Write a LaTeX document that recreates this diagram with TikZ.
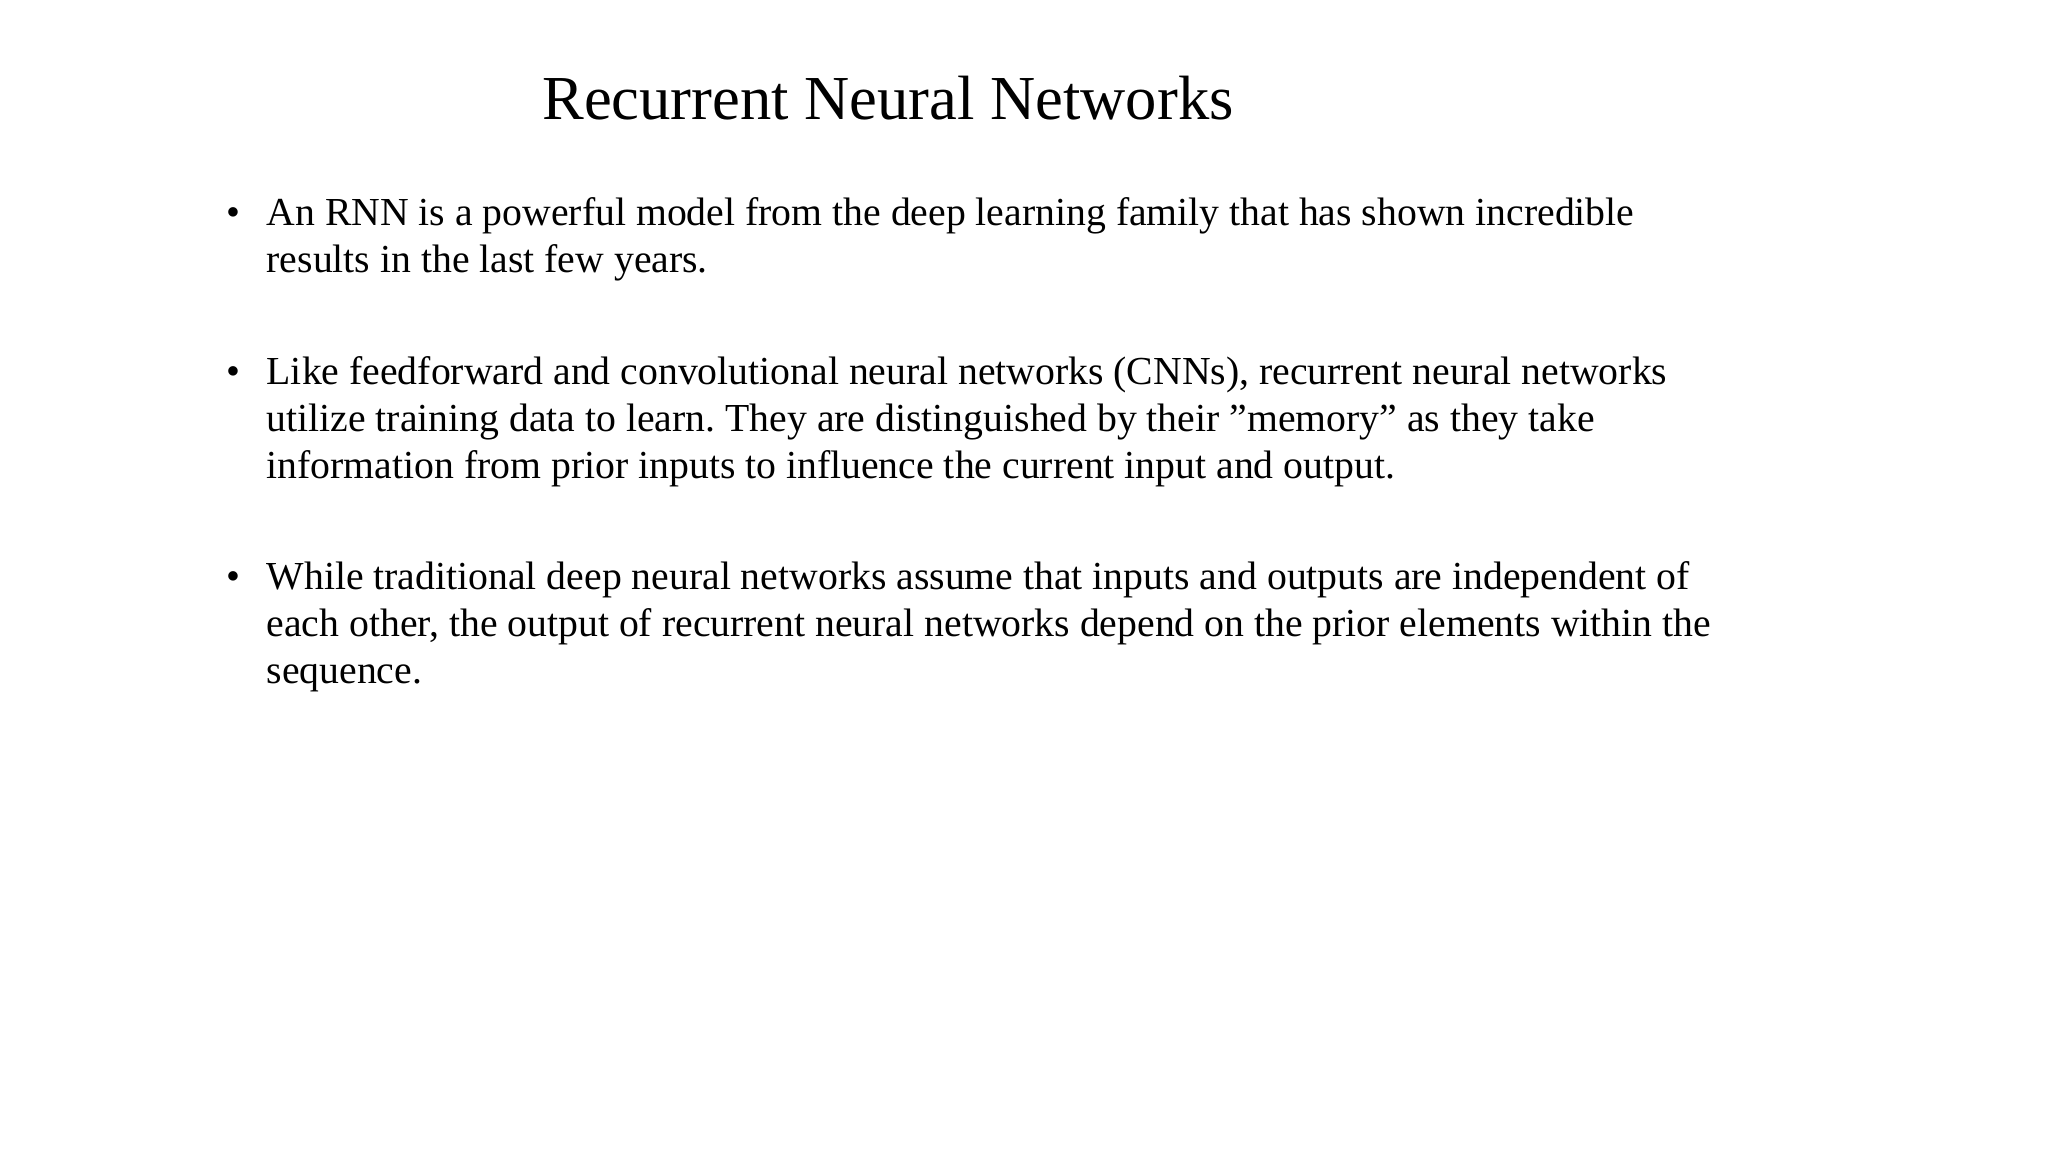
\documentclass[tikz,border=0pt]{standalone}
\usepackage{fontspec}
\setmainfont{Liberation Serif}
\frenchspacing
\tikzset{
  body/.style={anchor=base west, inner sep=0pt, font=\fontsize{11.3}{13.7}\selectfont},
}
\begin{document}
\begin{tikzpicture}
\useasboundingbox[fill=white] (0,0) rectangle (20.48,-11.52);
\node[anchor=base, inner sep=0pt, font=\fontsize{17.8}{22}\selectfont] (title) at (8.88,-1.20) {Recurrent Neural Networks};
\node[body] (b1) at (2.26,-2.26) {\textbullet};
\node[body] (t1a) at (2.66,-2.26) {An RNN is a powerful model from the deep learning family that has shown incredible};
\node[body] (t1b) at (2.66,-2.73) {results in the last few years.};
\node[body] (b2) at (2.26,-3.85) {\textbullet};
\node[body] (t2a) at (2.66,-3.85) {Like feedforward and convolutional neural networks (CNNs), recurrent neural networks};
\node[body] (t2b) at (2.66,-4.32) {utilize training data to learn. They are distinguished by their \char34 memory\char34\ as they take};
\node[body] (t2c) at (2.66,-4.79) {information from prior inputs to influence the current input and output.};
\node[body] (b3) at (2.26,-5.89) {\textbullet};
\node[body] (t3a) at (2.66,-5.89) {While traditional deep neural networks assume that inputs and outputs are independent of};
\node[body] (t3b) at (2.66,-6.37) {each other, the output of recurrent neural networks depend on the prior elements within the};
\node[body] (t3c) at (2.66,-6.84) {sequence.};
\end{tikzpicture}
\end{document}
